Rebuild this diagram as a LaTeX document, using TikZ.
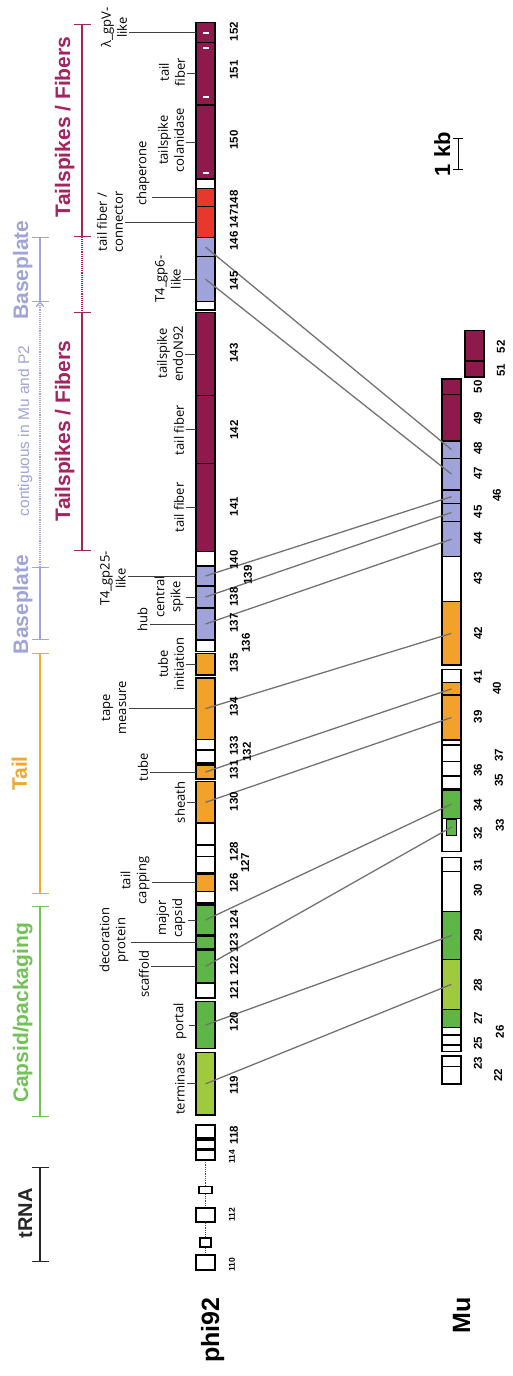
\documentclass[tikz,border=0pt]{standalone}
\usepackage{fontspec}
\setmainfont{Liberation Sans}
\newfontfamily\lf{Open Sans}
\usetikzlibrary{arrows.meta}
\definecolor{cMar}{HTML}{8E1A4B}
\definecolor{cRed}{HTML}{E8382C}
\definecolor{cLav}{HTML}{9FA3DA}
\definecolor{cOra}{HTML}{F2A22A}
\definecolor{cGrn}{HTML}{5DB646}
\definecolor{cLgr}{HTML}{A0CA3E}
\definecolor{tMar}{HTML}{A3245E}
\definecolor{tLav}{HTML}{A0A4D8}
\definecolor{tOra}{HTML}{F0A830}
\definecolor{tGrn}{HTML}{72C257}
\newcommand{\pg}[4]{\pgfmathsetmacro{\gh}{#3-#2}\pgfmathsetmacro{\gc}{(#2+#3)/2}\node[gene,fill=#4,minimum height=\gh pt] (#1) at (205.5,\gc) {};}
\newcommand{\mg}[4]{\pgfmathsetmacro{\gh}{#3-#2}\pgfmathsetmacro{\gc}{(#2+#3)/2}\node[gene,fill=#4,minimum height=\gh pt] (#1) at (451.5,\gc) {};}
\newcommand{\nm}[3]{\node[num] (n#1) at (#2,#3) {#1};}
\newcommand{\mn}[3]{\node[num] (mn#1) at (#2,#3) {#1};}
\begin{document}
\begin{tikzpicture}[x=1pt,y=-1pt,
  gene/.style={draw=black, line width=1.2pt, inner sep=0pt, outer sep=0pt, minimum width=19pt},
  num/.style={rotate=90, font=\bfseries\fontsize{11.5}{12}\selectfont, inner sep=0pt},
  snum/.style={rotate=90, font=\bfseries\fontsize{8.5}{9}\selectfont, inner sep=0pt},
  lbl/.style={rotate=90, font=\lf\fontsize{13}{16}\selectfont, align=center, inner sep=2pt},
  leader/.style={draw=black!75, line width=0.8pt},
  conn/.style={draw=black!55, line width=1.3pt},
  grp/.style={rotate=90, font=\bfseries\fontsize{21}{24}\selectfont, anchor=base, inner sep=0pt},
  grpbar/.style={line width=1.1pt, {Bar[width=17pt,line width=1.1pt]}-{Bar[width=17pt,line width=1.1pt]}},
  big/.style={rotate=90, font=\bfseries\fontsize{25}{28}\selectfont, anchor=base, inner sep=0pt}
]
\useasboundingbox (0,0) rectangle (512,1376);
\fill[white] (0,0) rectangle (512,1376);

% ---------- group bars ----------
\coordinate (tfA) at (82,24);
\coordinate (tfB) at (82,236.7);
\coordinate (tfC) at (82,311.7);
\coordinate (tfD) at (82,550.7);
\draw[grpbar, tMar] (tfA) -- (tfB);
\draw[tMar, line width=1.1pt, densely dotted] (tfB) -- (tfC);
\draw[grpbar, tMar] (tfC) -- (tfD);
\node[grp, text=tMar] (tTF1) at (70,127) {Tailspikes / Fibers};
\node[grp, text=tMar] (tTF2) at (70,431) {Tailspikes / Fibers};

\coordinate (bpA) at (40,236.7);
\coordinate (bpB) at (40,301.7);
\coordinate (bpC) at (40,566.7);
\coordinate (bpD) at (40,640);
\draw[grpbar, tLav] (bpA) -- (bpB);
\draw[tLav, line width=1.1pt, densely dotted, -{Straight Barb[length=4pt,width=8pt]}] (bpC) -- (bpB);
\draw[grpbar, tLav] (bpC) -- (bpD);
\node[grp, text=tLav] (tBP1) at (28,270) {Baseplate};
\node[grp, text=tLav] (tBP2) at (28,604.5) {Baseplate};
\node[rotate=90, anchor=base, inner sep=0pt, text=tLav, font=\fontsize{15.5}{17}\selectfont] (tCont) at (29,431) {contiguous in Mu and P2};

\coordinate (taA) at (40,653);
\coordinate (taB) at (40,894);
\draw[grpbar, tOra] (taA) -- (taB);
\node[grp, text=tOra] (tTail) at (27,773.5) {Tail};

\coordinate (caA) at (40,906);
\coordinate (caB) at (40,1116.7);
\draw[grpbar, tGrn] (caA) -- (caB);
\node[grp, text=tGrn] (tCap) at (28,1013) {Capsid/packaging};

\coordinate (trA) at (40,1167);
\coordinate (trB) at (40,1262);
\draw[grpbar, black!85] (trA) -- (trB);
\node[grp, text=black!85, font=\bfseries\fontsize{20}{22}\selectfont] (tRNA) at (32,1213.5) {tRNA};

% ---------- phi92 genes ----------
\draw[black!70, line width=0.8pt, densely dotted] (205.5,1160) -- (205.5,1262);
\pg{g152}{22.7}{42.7}{cMar}
\pg{g151}{42.7}{105}{cMar}
\pg{g150}{105}{179}{cMar}
\pg{g149}{179}{188.7}{white}
\pg{g148}{188.7}{206.7}{cRed}
\pg{g147}{206.7}{237.3}{cRed}
\pg{g146}{237.3}{256.7}{cLav}
\pg{g145}{256.7}{301.7}{cLav}
\pg{g144}{301.7}{310}{white}
\pg{g143}{312.7}{395.7}{cMar}
\pg{g142}{395.7}{463.3}{cMar}
\pg{g141}{463.3}{551.7}{cMar}
\pg{g140}{551.7}{566}{white}
\pg{g139}{566}{586}{cLav}
\pg{g138}{586}{608}{cLav}
\pg{g137}{608}{640}{cLav}
\pg{g136}{640}{651.7}{white}
\pg{g135}{653.5}{675}{cOra}
\pg{g134}{678}{739.3}{cOra}
\pg{g133}{739.3}{750}{white}
\pg{g132}{750}{763}{white}
\pg{g131}{765}{779}{cOra}
\pg{g130}{781.7}{823}{cOra}
\pg{g129}{823}{845}{white}
\pg{g128}{845}{856.7}{white}
\pg{g127}{856.7}{873}{white}
\pg{g126}{874}{891.7}{cOra}
\pg{g125}{891.7}{903}{white}
\pg{g124}{905}{935}{cGrn}
\pg{g123}{936.7}{948.3}{cGrn}
\pg{g122}{950}{982.7}{cGrn}
\pg{g121}{983}{998}{white}
\pg{g120}{1001.7}{1048.3}{cGrn}
\pg{g119}{1052.7}{1115}{cLgr}
\pg{g118}{1125}{1138}{white}
\pg{g117}{1140}{1149}{white}
\pg{g114}{1150}{1160}{white}
\node[gene, fill=white, minimum width=13pt, minimum height=7pt] (g113) at (205.5,1190) {};
\pg{g112}{1208}{1222}{white}
\node[gene, fill=white, minimum width=11pt, minimum height=9pt] (g111) at (205.5,1242.5) {};
\pg{g110}{1255}{1270}{white}

% white marks inside maroon genes
\foreach \yy in {33,48,97,173} \draw[white, line width=1.6pt] (203,\yy) -- (209,\yy);

% ---------- Mu genes ----------
\node[gene, fill=cMar, minimum height=30.3pt] (m52) at (474.5,345.85) {};
\node[gene, fill=cMar, minimum height=16pt] (m51) at (474.5,369) {};
\mg{m50}{379}{394.3}{cMar}
\mg{m49}{394.3}{441}{cMar}
\mg{m48}{441}{458.3}{cLav}
\mg{m47}{458.3}{490}{cLav}
\mg{m46}{490}{503.3}{cLav}
\mg{m45}{503.3}{521.7}{cLav}
\mg{m44}{521.7}{556.7}{cLav}
\mg{m43}{556.7}{601.7}{white}
\mg{m42}{601.7}{665}{cOra}
\mg{m41}{669.3}{682.7}{white}
\mg{m40}{682.7}{695}{cOra}
\mg{m39}{695}{740}{cOra}
\mg{m38}{740}{745}{white}
\mg{m37}{745}{761.7}{white}
\mg{m36}{761.7}{776}{white}
\mg{m35}{776}{788.3}{white}
\mg{m34}{790}{818.3}{cGrn}
\mg{m32}{818.3}{851.7}{white}
\node[gene, fill=cGrn, line width=1pt, minimum width=10pt, minimum height=16pt] (m33) at (451.7,827) {};
\mg{m31}{857.7}{871.7}{white}
\mg{m30}{871.7}{911.7}{white}
\mg{m29}{911.7}{959.3}{cGrn}
\mg{m28}{959.3}{1009.3}{cLgr}
\mg{m27}{1009.3}{1027.3}{cGrn}
\mg{m26}{1027.3}{1035}{white}
\mg{m25}{1035}{1045}{white}
\mg{m24}{1045}{1051.7}{white}
\mg{m23}{1056}{1066.7}{white}
\mg{m22}{1066.7}{1084}{white}

% ---------- connectors ----------
\draw[conn] (g146.center) -- (m48.center);
\draw[conn] (g145.center) -- (m47.center);
\draw[conn] (g139.center) -- (m46.center);
\draw[conn] (g138.center) -- (m45.center);
\draw[conn] (g137.center) -- (m44.center);
\draw[conn] (g134.center) -- (m42.center);
\draw[conn] (g131.center) -- (m40.center);
\draw[conn] (g130.center) -- (m39.center);
\draw[conn] (g124.center) -- (m34.center);
\draw[conn] (g122.center) -- (m33.center);
\draw[conn] (g120.center) -- (m29.center);
\draw[conn] (g119.center) -- (m28.center);

% ---------- phi92 numbers ----------
\nm{152}{234}{31.7}
\nm{151}{234}{70}
\nm{150}{234}{140}
\nm{148}{234}{200}
\nm{147}{234}{219}
\nm{146}{234}{241}
\nm{145}{234}{281}
\nm{143}{234}{353}
\nm{142}{234}{430}
\nm{141}{234}{506.7}
\nm{140}{234}{560}
\nm{139}{248}{575}
\nm{138}{234}{597}
\nm{137}{234}{623}
\nm{136}{246}{643}
\nm{135}{234}{663}
\nm{134}{234}{707}
\nm{133}{234}{746}
\nm{132}{247}{752}
\nm{131}{234}{770}
\nm{130}{234}{801.7}
\nm{128}{234}{851.7}
\nm{127}{245}{863}
\nm{126}{234}{883}
\nm{124}{234}{920}
\nm{123}{234}{943}
\nm{122}{234}{966}
\nm{121}{234}{990}
\nm{120}{234}{1021.7}
\nm{119}{234}{1085}
\nm{118}{234}{1135}
\node[snum] (n114) at (232,1157) {114};
\node[snum] (n112) at (232,1215) {112};
\node[snum] (n110) at (232,1265) {110};

% ---------- Mu numbers ----------
\mn{52}{501}{346.7}
\mn{51}{501}{370}
\mn{50}{478}{386.7}
\mn{49}{478}{418}
\mn{48}{478}{448}
\mn{47}{478}{473}
\mn{46}{497}{495}
\mn{45}{478}{511.7}
\mn{44}{478}{538}
\mn{43}{478}{578}
\mn{42}{478}{633}
\mn{41}{478}{676.7}
\mn{40}{497}{688}
\mn{39}{478}{716.7}
\mn{37}{499}{755}
\mn{36}{478}{770}
\mn{35}{499}{780}
\mn{34}{478}{805}
\mn{33}{500}{825}
\mn{32}{478}{833}
\mn{31}{478}{865}
\mn{30}{478}{890}
\mn{29}{478}{935}
\mn{28}{478}{985}
\mn{27}{478}{1018}
\mn{26}{500}{1031.7}
\mn{25}{478}{1043}
\mn{23}{478}{1063}
\mn{22}{498}{1075}

% ---------- function labels ----------
\node[lbl] (l152) at (114,27.5) {λ\_gpV-\\like};
\node[lbl] (l151) at (172,72) {tail\\fiber};
\node[lbl] (l150) at (171,140) {tailspike\\colanidase};
\node[lbl] (l148) at (143,173.5) {chaperone};
\node[lbl] (l147) at (110,222) {tail fiber /\\connector};
\node[lbl] (l145) at (168,279) {T4\_gp6-\\like};
\node[lbl] (l143) at (170,353.5) {tailspike\\endoN92};
\node[lbl] (l142) at (179,430) {tail fiber};
\node[lbl] (l141) at (179,507.5) {tail fiber};
\node[lbl] (l139) at (113,578.5) {T4\_gp25-\\like};
\node[lbl] (l138) at (169,597) {central\\spike};
\node[lbl] (l137) at (142.5,619.5) {hub};
\node[lbl] (l135) at (171,664) {tube\\initiation};
\node[lbl] (l134) at (114,708) {tape\\measure};
\node[lbl] (l131) at (143,767.5) {tube};
\node[lbl] (l130) at (180,802.5) {sheath};
\node[lbl] (l126) at (135,880.5) {tail\\capping};
\node[lbl] (l124) at (171,918) {major\\capsid};
\node[lbl] (l123) at (114,940) {decoration\\protein};
\node[lbl] (l122) at (144,974) {scaffold};
\node[lbl] (l120) at (180,1021.5) {portal};
\node[lbl] (l119) at (180,1084) {terminase};

\foreach \g/\l in {g152/l152,g151/l151,g150/l150,g148/l148,g147/l147,g145/l145,g143/l143,g142/l142,g141/l141,g139/l139,g138/l138,g137/l137,g135/l135,g134/l134,g131/l131,g130/l130,g126/l126,g124/l124,g123/l123,g122/l122,g120/l120,g119/l119}
  \draw[leader] (\g.west) -- (\g.west -| \l.south);

% ---------- genome names and scale ----------
\node[big] (phi) at (219,1330) {phi92};
\node[big] (mu) at (470,1315) {Mu};
\node[big, font=\bfseries\fontsize{22}{24}\selectfont] (kb) at (450,154) {1 kb};
\coordinate (sbA) at (458,138);
\coordinate (sbB) at (458,170);
\draw[line width=1pt, {Bar[width=10pt,line width=1pt]}-{Bar[width=10pt,line width=1pt]}] (sbA) -- (sbB);
\end{tikzpicture}
\end{document}
